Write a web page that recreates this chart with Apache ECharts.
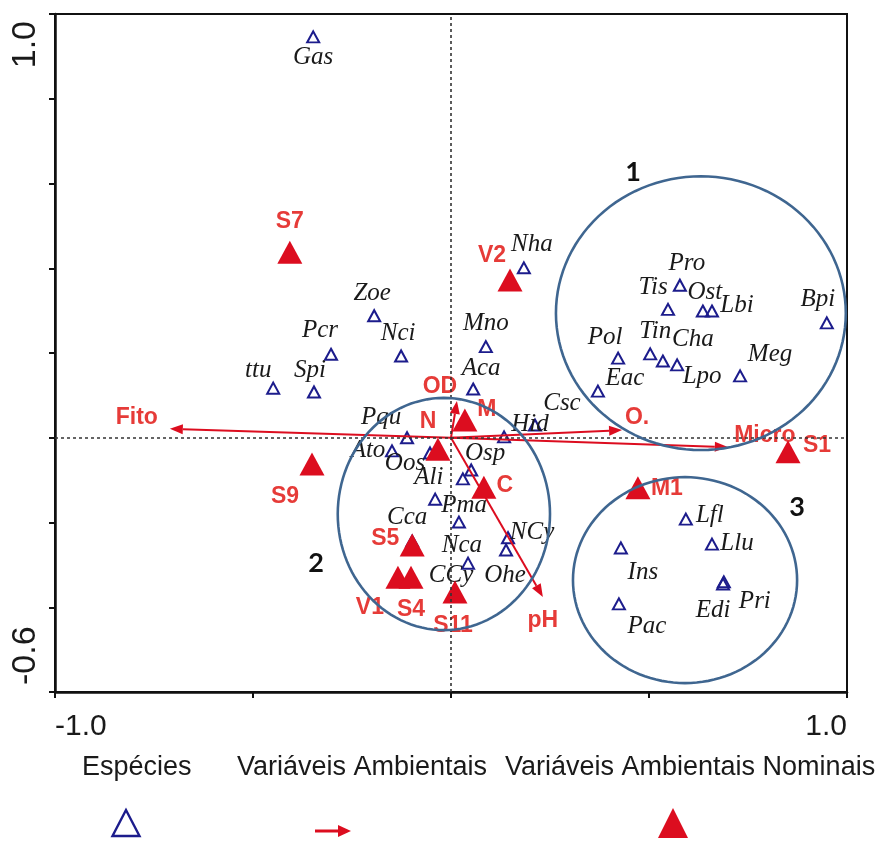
<!DOCTYPE html>
<html>
<head>
<meta charset="utf-8">
<script src="https://cdn.jsdelivr.net/npm/echarts@6/dist/echarts.min.js"></script>
<style>
  html, body { margin: 0; padding: 0; background: #fff; }
  #chart { width: 882px; height: 841px; }
</style>
</head>
<body>
<div id="chart"></div>
<script>
// CCA ordination scores (axis 1, axis 2)

// Species
const speciesNames = ['Gas','Nha','Zoe','Pcr','Nci','Mno','ttu','Spi','Aca','Pqu','Ato','Oos','Osp','Ali','Pma','Cca','Nca','NCy','Ohe','CCy','Hid','Csc','Pro','Tis','Ost','Lbi','Bpi','Pol','Tin','Cha','Lpo','Meg','Eac','Lfl','Llu','Ins','Edi','Pri','Pac'];
const speciesAxis1 = [-0.348,0.184,-0.194,-0.303,-0.126,0.088,-0.449,-0.346,0.056,-0.111,-0.149,-0.053,0.051,0.030,-0.040,-0.098,0.020,0.144,0.139,0.043,0.134,0.212,0.578,0.548,0.636,0.659,0.949,0.422,0.503,0.535,0.571,0.730,0.371,0.593,0.659,0.429,0.687,0.689,0.424];
const speciesAxis2 = [0.946,0.401,0.288,0.197,0.193,0.215,0.117,0.108,0.115,0.000,-0.031,-0.036,-0.076,-0.097,-0.145,-0.244,-0.199,-0.236,-0.265,-0.296,0.002,0.030,0.360,0.303,0.299,0.299,0.271,0.188,0.198,0.181,0.172,0.146,0.110,-0.192,-0.251,-0.260,-0.345,-0.340,-0.392];

// Nominal environmental variables (sites / campaigns)
const nominalNames = ['S7','V2','M','N','C','S5','V1','S4','S11','S9','M1','S1'];
const nominalAxis1 = [-0.407,0.149,0.035,-0.033,0.083,-0.098,-0.134,-0.101,0.010,-0.351,0.472,0.851];
const nominalAxis2 = [0.438,0.372,0.042,-0.027,-0.117,-0.253,-0.329,-0.329,-0.364,-0.062,-0.118,-0.033];

// Quantitative environmental variables (biplot arrows)
const envNames = ['Fito','O.','Micro','pH','OD'];
const envAxis1 = [-0.710,0.432,0.699,0.232,0.015];
const envAxis2 = [0.021,0.018,-0.022,-0.376,0.087];

// Species groups (ellipse centre and semi-axes, in axis units)
const groupIds = ['1','2','3'];
const groupCentre1 = [0.631,-0.018,0.591];
const groupCentre2 = [0.294,-0.180,-0.336];
const groupRadius1 = [0.366,0.268,0.283];
const groupRadius2 = [0.323,0.274,0.243];
const groupTagAxis1 = [0.460,-0.341,0.874];
const groupTagAxis2 = [0.627,-0.296,-0.163];

// Axis tick labels
const xTickValues = [-1, 1];
const xTickLabels = ['-1.0', '1.0'];
const yTickValues = [-0.6, 1.0];
const yTickLabels = ['-0.6', '1.0'];

// Legend
const legendLabels = ['Espécies', 'Variáveis Ambientais', 'Variáveis Ambientais Nominais'];

// ---- label placement (pixel offsets from the mark) ----
const speciesLabelShift = {
  Gas:[0,21], Nha:[8,-23], Zoe:[-2,-22], Pcr:[-11,-24], Nci:[-3,-23], Mno:[0,-23],
  ttu:[-15,-18], Spi:[-4,-22], Aca:[8,-21], Pqu:[-26,-20], Ato:[-24,0], Oos:[-25,10],
  Osp:[14,-17], Ali:[-34,-1], Pma:[29,6], Cca:[-5,-24], Nca:[3,23], NCy:[24,-5],
  Ohe:[-1,25], CCy:[-17,12], Hid:[26,-12], Csc:[27,-22], Pro:[7,-22], Tis:[-15,-22],
  Ost:[2,-19], Lbi:[25,-6], Bpi:[-9,-23], Pol:[-13,-21], Tin:[5,-22], Cha:[30,-22],
  Lpo:[25,12], Meg:[30,-21], Eac:[27,-13], Lfl:[24,-4], Llu:[25,-1], Ins:[22,24],
  Edi:[-10,26], Pri:[31,20], Pac:[28,23]
};
const nominalLabelShift = {
  S7:[0,-30], V2:[-18,-24], M:[22,-10], N:[-10,-28], C:[21,-2], S5:[-27,-6],
  V1:[-28,30], S4:[0,32], S11:[-2,34], S9:[-27,33], M1:[29,1], S1:[29,-6]
};
const envLabelShift = { 'Fito':[-33,-11], 'O.':[15,-12], 'Micro':[37,-11], 'pH':[0,24], 'OD':[-17,-14] };

const NAVY = '#1c1c8c';
const RED = '#dc0d1f';
const RED_TEXT = '#e63b38';
const RING = '#3f6690';

function tickText(values, labels) {
  return function (v) {
    const i = values.findIndex(t => Math.abs(t - v) < 1e-6);
    return i >= 0 ? labels[i] : '';
  };
}

const speciesData = speciesNames.map((n, i) => ({
  name: n,
  value: [speciesAxis1[i], speciesAxis2[i]],
  label: { offset: speciesLabelShift[n] || [0, -20] }
}));
const nominalData = nominalNames.map((n, i) => ({
  name: n,
  value: [nominalAxis1[i], nominalAxis2[i]],
  label: { offset: nominalLabelShift[n] || [0, -28] }
}));
const envData = envNames.map((n, i) => ({ name: n, value: [envAxis1[i], envAxis2[i]] }));
const groupData = groupIds.map((g, i) => ({
  name: g,
  value: [groupCentre1[i], groupCentre2[i], groupRadius1[i], groupRadius2[i], groupTagAxis1[i], groupTagAxis2[i]]
}));

const chart = echarts.init(document.getElementById('chart'), null, { renderer: 'canvas' });

const option = {
  animation: false,
  backgroundColor: '#ffffff',
  grid: {
    left: 55, top: 14, width: 792, height: 678,
    show: true, borderColor: '#111', borderWidth: 2, backgroundColor: 'transparent'
  },
  xAxis: {
    type: 'value', min: -1, max: 1, interval: 0.5,
    axisLine: { onZero: false, lineStyle: { color: '#111', width: 2.5 } },
    axisTick: { show: true, length: 6, lineStyle: { color: '#111', width: 2 } },
    splitLine: { show: false },
    axisLabel: {
      formatter: tickText(xTickValues, xTickLabels),
      color: '#1a1a1a', fontFamily: '"Liberation Sans", Arial, sans-serif', fontSize: 30,
      margin: 20, showMinLabel: true, showMaxLabel: true,
      alignMinLabel: 'left', alignMaxLabel: 'right'
    }
  },
  yAxis: {
    type: 'value', min: -0.6, max: 1.0, interval: 0.2,
    axisLine: { onZero: false, lineStyle: { color: '#111', width: 2.5 } },
    axisTick: { show: true, length: 6, lineStyle: { color: '#111', width: 2 } },
    splitLine: { show: false },
    axisLabel: {
      formatter: tickText(yTickValues, yTickLabels),
      rotate: 90,
      color: '#1a1a1a', fontFamily: '"Liberation Sans", Arial, sans-serif', fontSize: 34,
      margin: 12, padding: [0, 7, 0, 7], showMinLabel: true, showMaxLabel: true,
      alignMinLabel: 'left', alignMaxLabel: 'right'
    }
  },
  series: [
    {
      name: 'Espécies',
      type: 'scatter',
      z: 2,
      symbol: 'triangle',
      symbolSize: [12, 11],
      itemStyle: { color: 'rgba(255,255,255,0)', borderColor: NAVY, borderWidth: 2, opacity: 1 },
      label: {
        show: true, position: 'inside', formatter: '{b}',
        color: '#1a1a1a', fontFamily: '"Liberation Serif", "Times New Roman", serif',
        fontStyle: 'italic', fontSize: 25
      },
      emphasis: { disabled: true },
      data: speciesData,
      markLine: {
        silent: true, symbol: 'none', animation: false,
        label: { show: false },
        lineStyle: { color: '#333', type: [3, 3], width: 1.6, opacity: 1 },
        data: [{ xAxis: 0 }, { yAxis: 0 }]
      }
    },
    {
      name: 'Variáveis Ambientais',
      type: 'custom',
      z: 3,
      clip: false,
      data: envData,
      renderItem: function (params, api) {
        const p0 = api.coord([0, 0]);
        const p1 = api.coord([api.value(0), api.value(1)]);
        const dx = p1[0] - p0[0], dy = p1[1] - p0[1];
        const len = Math.sqrt(dx * dx + dy * dy);
        const ux = dx / len, uy = dy / len;
        const headL = 13, headW = 5;
        const bx = p1[0] - ux * headL, by = p1[1] - uy * headL;
        const name = envNames[params.dataIndex];
        const off = envLabelShift[name] || [0, -16];
        return {
          type: 'group',
          children: [
            { type: 'line', shape: { x1: p0[0], y1: p0[1], x2: bx, y2: by }, style: { stroke: RED, lineWidth: 2 } },
            { type: 'polygon', shape: { points: [[p1[0], p1[1]], [bx - uy * headW, by + ux * headW], [bx + uy * headW, by - ux * headW]] }, style: { fill: RED } },
            { type: 'text', x: p1[0] + off[0], y: p1[1] + off[1],
              style: { text: name, fill: RED_TEXT, font: 'bold 23px "Liberation Sans", Arial, sans-serif', align: 'center', verticalAlign: 'middle' } }
          ]
        };
      }
    },
    {
      name: 'Variáveis Ambientais Nominais',
      type: 'scatter',
      z: 4,
      symbol: 'triangle',
      symbolSize: [25, 23],
      itemStyle: { color: RED, opacity: 1 },
      label: {
        show: true, position: 'inside', formatter: '{b}',
        color: RED_TEXT, fontFamily: '"Liberation Sans", Arial, sans-serif',
        fontWeight: 'bold', fontSize: 23
      },
      emphasis: { disabled: true },
      data: nominalData
    },
    {
      name: 'grupos',
      type: 'custom',
      z: 5,
      clip: false,
      silent: true,
      data: groupData,
      renderItem: function (params, api) {
        const c = api.coord([api.value(0), api.value(1)]);
        const s = api.size([api.value(2), api.value(3)]);
        const pts = [];
        for (let k = 0; k < 120; k++) {
          const t = k / 120 * Math.PI * 2;
          pts.push([c[0] + s[0] * Math.cos(t), c[1] + s[1] * Math.sin(t)]);
        }
        const tag = api.coord([api.value(4), api.value(5)]);
        return {
          type: 'group',
          children: [
            { type: 'polygon', shape: { points: pts }, style: { fill: 'none', stroke: RING, lineWidth: 2.6 } },
            { type: 'text', x: tag[0], y: tag[1],
              style: { text: groupIds[params.dataIndex], fill: '#111', font: 'bold 27px Lato, "Open Sans", sans-serif', align: 'center', verticalAlign: 'middle' } }
          ]
        };
      }
    }
  ],
  graphic: [
    { type: 'text', left: 82, top: 754, style: { text: legendLabels[0], fill: '#1a1a1a', font: '27px "Liberation Sans", Arial, sans-serif' } },
    { type: 'text', left: 237, top: 754, style: { text: legendLabels[1], fill: '#1a1a1a', font: '27px "Liberation Sans", Arial, sans-serif' } },
    { type: 'text', left: 505, top: 754, style: { text: legendLabels[2], fill: '#1a1a1a', font: '27px "Liberation Sans", Arial, sans-serif' } },
    { type: 'polygon', shape: { points: [[126, 810], [112.5, 836], [139.5, 836]] }, style: { fill: 'none', stroke: NAVY, lineWidth: 2.4 } },
    { type: 'line', shape: { x1: 315, y1: 831, x2: 339, y2: 831 }, style: { stroke: RED, lineWidth: 3 } },
    { type: 'polygon', shape: { points: [[351, 831], [338, 825], [338, 837]] }, style: { fill: RED } },
    { type: 'polygon', shape: { points: [[673, 808], [658, 838], [688, 838]] }, style: { fill: RED } }
  ]
};

chart.setOption(option);
</script>
</body>
</html>
